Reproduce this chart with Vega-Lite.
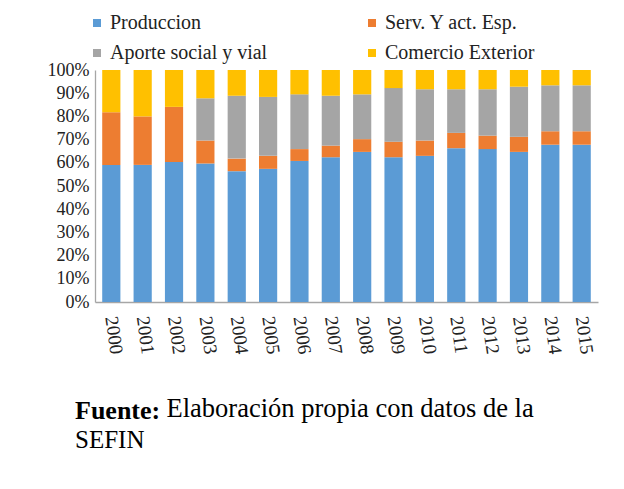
{
  "$schema": "https://vega.github.io/schema/vega-lite/v6.json",
  "width": 503,
  "height": 232,
  "autosize": {"type": "none"},
  "padding": {"left": 95, "top": 70, "right": 26, "bottom": 187},
  "background": "white",
  "config": {"view": {"stroke": null}},
  "title": {
    "text": "Fuente:",
    "subtitle": "SEFIN",
    "orient": "top",
    "anchor": "start",
    "frame": "group",
    "baseline": "alphabetic",
    "dx": -20,
    "dy": 461,
    "offset": 0,
    "font": "Liberation Serif",
    "fontSize": 26,
    "fontWeight": "bold",
    "color": "#000000",
    "subtitleFont": "Liberation Serif",
    "subtitleFontSize": 25,
    "subtitleFontWeight": "normal",
    "subtitleColor": "#000000",
    "subtitlePadding": 3
  },
  "data": {
    "values": [
      {"year": "2000", "cat": "Produccion", "i": 1, "v": 59.1},
      {"year": "2000", "cat": "Serv. Y act. Esp.", "i": 2, "v": 22.7},
      {"year": "2000", "cat": "Aporte social y vial", "i": 3, "v": 0},
      {"year": "2000", "cat": "Comercio Exterior", "i": 4, "v": 18.2},
      {"year": "2001", "cat": "Produccion", "i": 1, "v": 59.1},
      {"year": "2001", "cat": "Serv. Y act. Esp.", "i": 2, "v": 20.9},
      {"year": "2001", "cat": "Aporte social y vial", "i": 3, "v": 0},
      {"year": "2001", "cat": "Comercio Exterior", "i": 4, "v": 20.0},
      {"year": "2002", "cat": "Produccion", "i": 1, "v": 60.3},
      {"year": "2002", "cat": "Serv. Y act. Esp.", "i": 2, "v": 23.8},
      {"year": "2002", "cat": "Aporte social y vial", "i": 3, "v": 0},
      {"year": "2002", "cat": "Comercio Exterior", "i": 4, "v": 15.9},
      {"year": "2003", "cat": "Produccion", "i": 1, "v": 59.7},
      {"year": "2003", "cat": "Serv. Y act. Esp.", "i": 2, "v": 9.9},
      {"year": "2003", "cat": "Aporte social y vial", "i": 3, "v": 18.2},
      {"year": "2003", "cat": "Comercio Exterior", "i": 4, "v": 12.2},
      {"year": "2004", "cat": "Produccion", "i": 1, "v": 56.4},
      {"year": "2004", "cat": "Serv. Y act. Esp.", "i": 2, "v": 5.4},
      {"year": "2004", "cat": "Aporte social y vial", "i": 3, "v": 27.1},
      {"year": "2004", "cat": "Comercio Exterior", "i": 4, "v": 11.1},
      {"year": "2005", "cat": "Produccion", "i": 1, "v": 57.4},
      {"year": "2005", "cat": "Serv. Y act. Esp.", "i": 2, "v": 5.6},
      {"year": "2005", "cat": "Aporte social y vial", "i": 3, "v": 25.4},
      {"year": "2005", "cat": "Comercio Exterior", "i": 4, "v": 11.6},
      {"year": "2006", "cat": "Produccion", "i": 1, "v": 60.8},
      {"year": "2006", "cat": "Serv. Y act. Esp.", "i": 2, "v": 5.1},
      {"year": "2006", "cat": "Aporte social y vial", "i": 3, "v": 23.6},
      {"year": "2006", "cat": "Comercio Exterior", "i": 4, "v": 10.5},
      {"year": "2007", "cat": "Produccion", "i": 1, "v": 62.4},
      {"year": "2007", "cat": "Serv. Y act. Esp.", "i": 2, "v": 5.0},
      {"year": "2007", "cat": "Aporte social y vial", "i": 3, "v": 21.5},
      {"year": "2007", "cat": "Comercio Exterior", "i": 4, "v": 11.1},
      {"year": "2008", "cat": "Produccion", "i": 1, "v": 64.7},
      {"year": "2008", "cat": "Serv. Y act. Esp.", "i": 2, "v": 5.5},
      {"year": "2008", "cat": "Aporte social y vial", "i": 3, "v": 19.3},
      {"year": "2008", "cat": "Comercio Exterior", "i": 4, "v": 10.5},
      {"year": "2009", "cat": "Produccion", "i": 1, "v": 62.4},
      {"year": "2009", "cat": "Serv. Y act. Esp.", "i": 2, "v": 6.7},
      {"year": "2009", "cat": "Aporte social y vial", "i": 3, "v": 23.1},
      {"year": "2009", "cat": "Comercio Exterior", "i": 4, "v": 7.8},
      {"year": "2010", "cat": "Produccion", "i": 1, "v": 63.0},
      {"year": "2010", "cat": "Serv. Y act. Esp.", "i": 2, "v": 6.6},
      {"year": "2010", "cat": "Aporte social y vial", "i": 3, "v": 22.1},
      {"year": "2010", "cat": "Comercio Exterior", "i": 4, "v": 8.3},
      {"year": "2011", "cat": "Produccion", "i": 1, "v": 66.3},
      {"year": "2011", "cat": "Serv. Y act. Esp.", "i": 2, "v": 6.6},
      {"year": "2011", "cat": "Aporte social y vial", "i": 3, "v": 18.8},
      {"year": "2011", "cat": "Comercio Exterior", "i": 4, "v": 8.3},
      {"year": "2012", "cat": "Produccion", "i": 1, "v": 65.9},
      {"year": "2012", "cat": "Serv. Y act. Esp.", "i": 2, "v": 5.8},
      {"year": "2012", "cat": "Aporte social y vial", "i": 3, "v": 20.0},
      {"year": "2012", "cat": "Comercio Exterior", "i": 4, "v": 8.3},
      {"year": "2013", "cat": "Produccion", "i": 1, "v": 64.7},
      {"year": "2013", "cat": "Serv. Y act. Esp.", "i": 2, "v": 6.5},
      {"year": "2013", "cat": "Aporte social y vial", "i": 3, "v": 21.6},
      {"year": "2013", "cat": "Comercio Exterior", "i": 4, "v": 7.2},
      {"year": "2014", "cat": "Produccion", "i": 1, "v": 67.8},
      {"year": "2014", "cat": "Serv. Y act. Esp.", "i": 2, "v": 5.8},
      {"year": "2014", "cat": "Aporte social y vial", "i": 3, "v": 19.8},
      {"year": "2014", "cat": "Comercio Exterior", "i": 4, "v": 6.6},
      {"year": "2015", "cat": "Produccion", "i": 1, "v": 67.8},
      {"year": "2015", "cat": "Serv. Y act. Esp.", "i": 2, "v": 5.8},
      {"year": "2015", "cat": "Aporte social y vial", "i": 3, "v": 19.8},
      {"year": "2015", "cat": "Comercio Exterior", "i": 4, "v": 6.6}
    ]
  },
  "mark": {"type": "bar"},
  "encoding": {
    "x": {
      "field": "year",
      "type": "ordinal",
      "scale": {"paddingInner": 0.42, "paddingOuter": 0.23},
      "axis": {
        "title": "Elaboración propia con datos de la",
        "titleFont": "Liberation Serif",
        "titleFontSize": 26.5,
        "titleFontWeight": "normal",
        "titleColor": "#000000",
        "titleAngle": 0,
        "titleAlign": "left",
        "titleBaseline": "alphabetic",
        "titleX": 71,
        "titleY": 114,
        "labelAngle": 82,
        "labelAlign": "left",
        "labelBaseline": "middle",
        "labelFont": "Liberation Serif",
        "labelFontSize": 19,
        "labelColor": "#222222",
        "labelPadding": 14,
        "ticks": false,
        "domainColor": "#A6A6A6",
        "domainWidth": 1.3
      }
    },
    "y": {
      "field": "v",
      "type": "quantitative",
      "stack": true,
      "scale": {"domain": [0, 100], "nice": false},
      "axis": {
        "title": null,
        "values": [0, 10, 20, 30, 40, 50, 60, 70, 80, 90, 100],
        "labelExpr": "datum.value + '%'",
        "labelFont": "Liberation Serif",
        "labelFontSize": 18,
        "labelColor": "#222222",
        "labelPadding": 6,
        "ticks": false,
        "grid": false,
        "domainColor": "#A6A6A6",
        "domainWidth": 1.3
      }
    },
    "color": {
      "field": "cat",
      "type": "nominal",
      "scale": {
        "domain": ["Produccion", "Serv. Y act. Esp.", "Aporte social y vial", "Comercio Exterior"],
        "range": ["#5B9BD5", "#ED7D31", "#A5A5A5", "#FFC000"]
      },
      "legend": {
        "title": null,
        "orient": "none",
        "direction": "horizontal",
        "legendX": -8,
        "legendY": -57,
        "columns": 2,
        "symbolType": "square",
        "symbolSize": 64,
        "symbolStrokeWidth": 0,
        "labelFont": "Liberation Serif",
        "labelFontSize": 20,
        "labelColor": "#222222",
        "labelOffset": 3,
        "columnPadding": 94,
        "rowPadding": 10
      }
    },
    "order": {"field": "i", "type": "quantitative", "sort": "ascending"}
  }
}
